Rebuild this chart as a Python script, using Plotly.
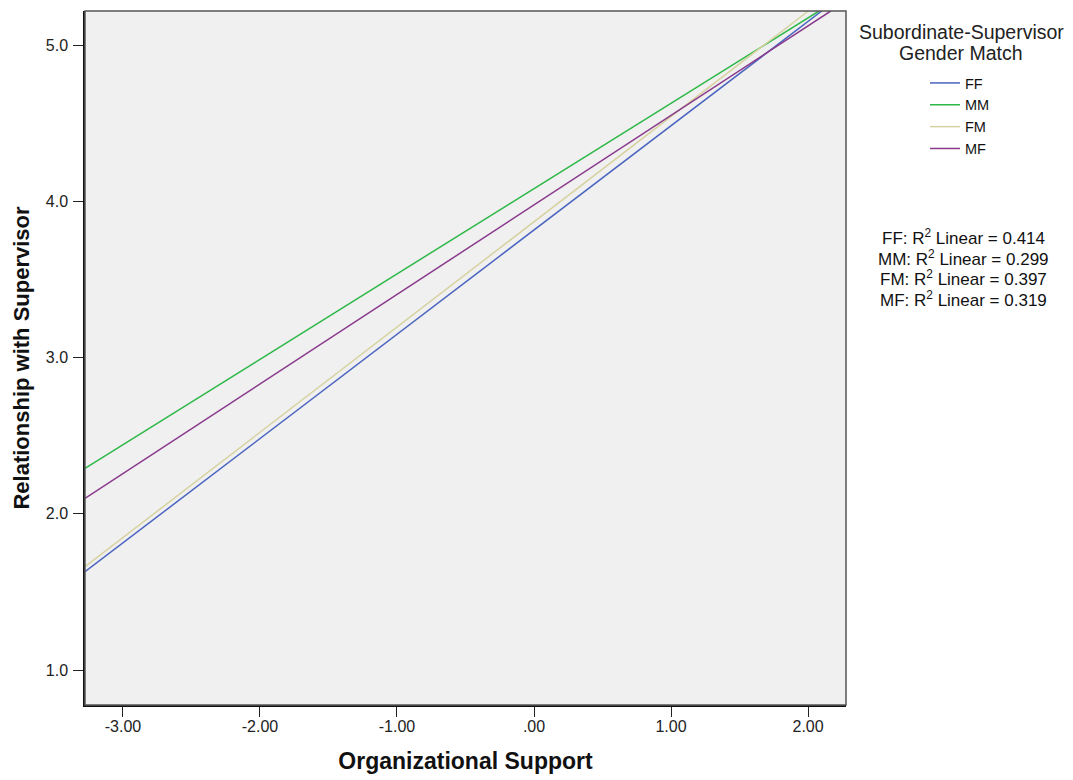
import plotly.graph_objects as go

groups = ["FF", "MM", "FM", "MF"]
colors = ["#4a64c0", "#2eb848", "#d6d2a0", "#8a3a8c"]
# fit-line endpoints (left edge -> top edge)
x_start = [-3.277, -3.277, -3.277, -3.277]
x_end = [2.10, 2.08, 2.002, 2.166]
y_start = [1.629, 2.291, 1.661, 2.099]
y_end = [5.218, 5.218, 5.218, 5.218]
r2_labels = ["FF: R<sup>2</sup> Linear = 0.414", "MM: R<sup>2</sup> Linear = 0.299",
             "FM: R<sup>2</sup> Linear = 0.397", "MF: R<sup>2</sup> Linear = 0.319"]
legend_title = ["Subordinate-Supervisor", "Gender Match"]
x_ticks = [-3, -2, -1, 0, 1, 2]
x_ticktext = ["-3.00", "-2.00", "-1.00", ".00", "1.00", "2.00"]
y_ticks = [1, 2, 3, 4, 5]
y_ticktext = ["1.0", "2.0", "3.0", "4.0", "5.0"]

FONT = "Liberation Sans, Arial, sans-serif"
OFF = 8  # page body margin
W, H = 1073 - OFF, 780 - OFF
L, T = 85 - OFF, 11 - OFF
PW, PH = 761, 694
R, B = W - L - PW, H - T - PH


def px_x(px):
    return (px - OFF - L) / PW


def px_y(py):
    return (H - B - (py - OFF)) / PH


fig = go.Figure()
for g, c, xs, xe, ys, ye in zip(groups, colors, x_start, x_end, y_start, y_end):
    fig.add_trace(go.Scatter(x=[xs, xe], y=[ys, ye], mode="lines", name=g,
                             line=dict(color=c, width=1.5), hoverinfo="skip"))

for i, t in enumerate(legend_title):
    fig.add_annotation(xref="paper", yref="paper", x=px_x(961), y=px_y(32 + 21 * i),
                       text=t, showarrow=False, xanchor="center", yanchor="middle",
                       font=dict(family=FONT, size=19.5, color="#222"))

for i, t in enumerate(r2_labels):
    fig.add_annotation(xref="paper", yref="paper", x=px_x(963), y=px_y(237 + 20.7 * i),
                       text=t, showarrow=False, xanchor="center", yanchor="middle",
                       font=dict(family=FONT, size=17, color="#111"))

fig.add_shape(type="rect", xref="paper", yref="paper", x0=0, x1=1, y0=0, y1=1,
              line=dict(color="#555", width=1.5), fillcolor="rgba(0,0,0,0)", layer="above")

fig.update_layout(
    width=W, height=H,
    margin=dict(l=L, r=R, t=T, b=B, autoexpand=False),
    paper_bgcolor="white", plot_bgcolor="#f0f0f0",
    font=dict(family=FONT, color="#222"),
    showlegend=True,
    legend=dict(
        x=px_x(925), xanchor="left", y=px_y(67), yanchor="top",
        font=dict(family=FONT, size=14.5, color="#111"),
        bgcolor="rgba(0,0,0,0)", tracegroupgap=0, itemwidth=30,
    ),
    xaxis=dict(range=[-3.277, 2.277], tickvals=x_ticks, ticktext=x_ticktext,
               showgrid=False, zeroline=False, showline=True, linecolor="#111", linewidth=1.5,
               ticks="outside", ticklen=10, tickcolor="#222", automargin=False,
               ticklabelstandoff=-4,
               tickfont=dict(family=FONT, size=16, color="#222"),
               title=dict(text="<b>Organizational Support</b>", standoff=19,
                          font=dict(family=FONT, size=23, color="#111"))),
    yaxis=dict(range=[0.776, 5.218], tickvals=y_ticks, ticktext=y_ticktext,
               showgrid=False, zeroline=False, showline=True, linecolor="#111", linewidth=1.5,
               ticks="outside", ticklen=10, tickcolor="#222", automargin=False,
               ticklabelstandoff=2,
               tickfont=dict(family=FONT, size=16, color="#222"),
               title=dict(text="<b>Relationship with Supervisor</b>", standoff=10,
                          font=dict(family=FONT, size=22, color="#111"))),
)

fig.write_html("out.html")
